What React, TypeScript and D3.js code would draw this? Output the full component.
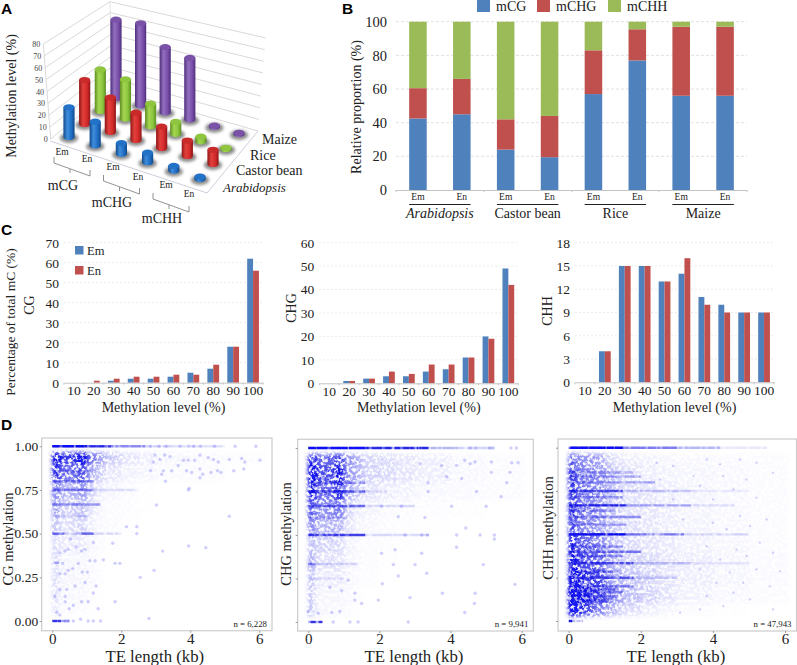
import React, { useEffect, useRef } from "react";
import * as d3 from "d3";

const SERIF = "'Liberation Serif', 'Times New Roman', serif";
const SANS = "'Liberation Sans', Arial, sans-serif";
const BLUE = "#4f81bd";
const RED = "#c0504d";
const GREEN = "#9bbb59";
const INK = "#222";

// A: methylation level (rows back to front in drawing order)
const species = ["Arabidopsis", "Castor bean", "Rice", "Maize"];
const contexts = ["mCG", "mCHG", "mCHH"];
const tissues = ["Em", "En"];
const levelArabidopsis = [25, 20, 9, 8, 4, 2];
const levelCastor = [37, 29, 23, 18, 13, 12];
const levelRice = [35, 33, 19, 10, 4, 1];
const levelMaize = [66, 69, 55, 52, 1, 1];
const levelTicks = [0, 10, 20, 30, 40, 50, 60, 70, 80];

// B: relative proportion
const samples = ["Em", "En", "Em", "En", "Em", "En", "Em", "En"];
const sampleGroups = ["Arabidopsis", "Castor bean", "Rice", "Maize"];
const propCG = [42.5, 45, 24, 19.5, 57, 77, 56, 56];
const propCHG = [18, 21, 18, 24.5, 26, 18.5, 41, 41];
const propCHH = [39.5, 34, 58, 56, 17, 4.5, 3, 3];

// C: percentage of total mC per methylation bin
const bins = ["10", "20", "30", "40", "50", "60", "70", "80", "90", "100"];
const cgEm = [0, 0, 1, 2, 2, 3, 5, 7, 18, 62];
const cgEn = [0, 1, 2, 3, 3, 4, 4, 9, 18, 56];
const chgEm = [0, 1, 2, 3, 3, 5, 6, 11, 20, 49];
const chgEn = [0, 1, 2, 5, 4, 8, 8, 11, 19, 42];
const chhEm = [0, 4, 15, 15, 13, 14, 11, 10, 9, 9];
const chhEn = [0, 4, 15, 15, 13, 16, 10, 9, 9, 9];

// D: the clouds are far too dense to read dot by dot, so they are kept as
// density estimates by eye (rows top to bottom, columns along kbEdges), horizontal
// stripes at the common ratios, and the sparse dots that can actually be read.
// The grain inside the clouds is an SVG noise filter: a texture, not data.
const kbEdges = [0, 0.125, 0.25, 0.5, 0.75, 1, 1.25, 1.5, 2, 2.5, 3, 4, 5, 6.1];
const methEdges = [0.965, 0.9, 0.8, 0.7, 0.6, 0.5, 0.4, 0.3, 0.2, 0.1, 0.03];

const cgDensity = [
  [0.8, 0.7, 0.55, 0.6, 0.75, 0.4, 0.3, 0.15, 0.08, 0.05, 0.03, 0.015, 0.01],
  [0.65, 0.55, 0.4, 0.4, 0.5, 0.25, 0.15, 0.07, 0.04, 0.03, 0.012, 0.01, 0],
  [0.4, 0.3, 0.2, 0.22, 0.28, 0.12, 0.06, 0.03, 0.01, 0.005, 0, 0, 0],
  [0.3, 0.2, 0.12, 0.15, 0.18, 0.08, 0.03, 0.012, 0.008, 0.003, 0, 0, 0],
  [0.2, 0.12, 0.08, 0.1, 0.12, 0.05, 0.02, 0.01, 0.005, 0, 0, 0, 0],
  [0.12, 0.08, 0.05, 0.06, 0.06, 0.03, 0.01, 0.003, 0, 0, 0, 0, 0],
  [0.12, 0.06, 0.03, 0.03, 0.03, 0.015, 0.006, 0, 0, 0, 0, 0, 0],
  [0.12, 0.05, 0.03, 0.03, 0.03, 0.02, 0.006, 0, 0, 0, 0, 0, 0],
  [0.1, 0.05, 0.02, 0.02, 0.02, 0.012, 0.005, 0, 0, 0, 0, 0, 0],
  [0.08, 0.03, 0.01, 0.01, 0.01, 0.005, 0.003, 0, 0, 0, 0, 0, 0],
];
const chgDensity = [
  [0.7, 0.6, 0.42, 0.45, 0.55, 0.3, 0.22, 0.12, 0.1, 0.07, 0.05, 0.02, 0.01],
  [0.85, 0.75, 0.5, 0.5, 0.65, 0.3, 0.22, 0.13, 0.1, 0.08, 0.05, 0.02, 0.012],
  [0.75, 0.6, 0.4, 0.42, 0.6, 0.22, 0.15, 0.07, 0.05, 0.04, 0.02, 0.015, 0.01],
  [0.55, 0.4, 0.3, 0.32, 0.38, 0.12, 0.06, 0.035, 0.015, 0.01, 0.008, 0.005, 0],
  [0.4, 0.25, 0.2, 0.22, 0.2, 0.08, 0.04, 0.02, 0.012, 0.006, 0.004, 0, 0],
  [0.2, 0.15, 0.12, 0.12, 0.1, 0.04, 0.02, 0.012, 0.006, 0.004, 0, 0, 0],
  [0.25, 0.15, 0.08, 0.09, 0.08, 0.04, 0.02, 0.01, 0.005, 0, 0, 0, 0],
  [0.2, 0.08, 0.05, 0.05, 0.06, 0.03, 0.012, 0.008, 0, 0, 0, 0, 0],
  [0.2, 0.06, 0.03, 0.03, 0.03, 0.02, 0.006, 0, 0, 0, 0, 0, 0],
  [0.2, 0.05, 0.03, 0.02, 0.02, 0.01, 0.003, 0, 0, 0, 0, 0, 0],
];
const chhDensity = [
  [0.5, 0.4, 0.3, 0.3, 0.25, 0.12, 0.08, 0.05, 0.04, 0.03, 0.02, 0.015, 0.01],
  [0.65, 0.5, 0.35, 0.33, 0.3, 0.18, 0.12, 0.08, 0.05, 0.04, 0.03, 0.02, 0.012],
  [0.65, 0.5, 0.38, 0.35, 0.3, 0.2, 0.13, 0.09, 0.07, 0.05, 0.035, 0.02, 0.012],
  [0.65, 0.5, 0.35, 0.33, 0.25, 0.18, 0.13, 0.09, 0.07, 0.05, 0.035, 0.02, 0.012],
  [0.6, 0.45, 0.33, 0.3, 0.25, 0.18, 0.12, 0.09, 0.07, 0.05, 0.035, 0.02, 0.012],
  [0.7, 0.55, 0.45, 0.4, 0.35, 0.2, 0.14, 0.1, 0.08, 0.06, 0.04, 0.025, 0.012],
  [0.8, 0.7, 0.5, 0.45, 0.4, 0.22, 0.16, 0.12, 0.1, 0.07, 0.05, 0.03, 0.015],
  [0.85, 0.75, 0.6, 0.55, 0.5, 0.28, 0.22, 0.16, 0.12, 0.08, 0.05, 0.03, 0.015],
  [0.95, 0.85, 0.7, 0.6, 0.5, 0.35, 0.28, 0.18, 0.12, 0.08, 0.04, 0.02, 0.01],
  [0.9, 0.8, 0.6, 0.45, 0.35, 0.25, 0.15, 0.1, 0.05, 0.03, 0.01, 0.005, 0],
];

// stripes: [methylation, from kb, to kb, strength]
const cgStripes = [
  [1, 0, 1.1, 0.95], [1, 1.1, 1.7, 0.75], [1, 1.7, 2.7, 0.4], [1, 2.7, 3.5, 0.15], [1, 3.5, 5, 0.1],
  [0.857, 0, 1.1, 0.2], [0.8, 0, 1.2, 0.35], [0.75, 0, 1.2, 0.4], [0.75, 1.2, 2.5, 0.1],
  [0.667, 0, 1.4, 0.35], [0.6, 0, 1, 0.12], [0.5, 0, 0.4, 0.5], [0.5, 0.4, 0.85, 0.18], [0.5, 0.85, 1.2, 0.5],
  [0.5, 1.2, 2, 0.12], [0.333, 0.05, 0.2, 0.35], [0, 0, 0.25, 0.7], [0, 0.25, 0.5, 0.3],
];
const chgStripes = [
  [1, 0, 1.6, 0.95], [1, 1.6, 3.4, 0.75], [1, 3.4, 4.2, 0.25], [1, 4.2, 5.2, 0.15],
  [0.8, 0, 1.6, 0.35], [0.75, 0, 1.6, 0.55], [0.75, 1.6, 2.2, 0.12], [0.667, 0, 1.6, 0.5],
  [0.667, 1.6, 3, 0.12], [0.6, 0, 1.1, 0.18], [0.5, 0, 1.6, 0.65], [0.5, 1.6, 3.4, 0.12],
  [0.333, 0, 0.2, 0.6], [0.333, 0.2, 1.4, 0.12], [0.25, 0, 1, 0.08], [0, 0, 0.4, 0.7],
];
const chhStripes = [
  [1, 0, 1.5, 0.95], [1, 1.5, 3, 0.45], [1, 3, 4.2, 0.25], [1, 4.2, 5.5, 0.08],
  [0.857, 0, 1.8, 0.25], [0.833, 0, 2, 0.3], [0.8, 0, 2.4, 0.3], [0.75, 0, 1.5, 0.6], [0.75, 1.5, 3.5, 0.18],
  [0.75, 3.5, 5, 0.06], [0.714, 0, 1.5, 0.3], [0.667, 0, 1.6, 0.75], [0.667, 1.6, 3.4, 0.3], [0.667, 3.4, 4.6, 0.1],
  [0.636, 0, 1.3, 0.3], [0.6, 0, 2, 0.35], [0.556, 0, 1.6, 0.3], [0.5, 0, 1.6, 0.95], [0.5, 1.6, 3.2, 0.45],
  [0.5, 3.2, 5, 0.15], [0.429, 0, 1.5, 0.35], [0.4, 0, 2, 0.45], [0.375, 0, 1.5, 0.35], [0.333, 0, 1.8, 0.6],
  [0.333, 1.8, 3.5, 0.22], [0.333, 3.5, 5, 0.07], [0.286, 0, 1.4, 0.35], [0.25, 0, 1.8, 0.55], [0.25, 1.8, 3, 0.15],
  [0.2, 0, 1.8, 0.4], [0.182, 0, 1.3, 0.35], [0.167, 0, 1.5, 0.4], [0.143, 0, 1.3, 0.4], [0.125, 0, 1.2, 0.35],
  [0.111, 0, 1.1, 0.3], [0, 0, 0.1, 0.85], [0, 0.1, 0.4, 0.3],
];

// sparse dots: [kb, methylation]
const cgDots = [
  [3.02, 0.664], [5.13, 0.6], [3.97, 0.76], [3.94, 0.75], [3.28, 0.8], [4.28, 0.82], [4.36, 0.84], [4.28, 0.87],
  [3.89, 0.86], [4.04, 0.85], [4.6, 0.85], [4.79, 0.86], [4.89, 0.85], [5.26, 0.86], [5.55, 0.87], [5.58, 0.91],
  [6.02, 0.92], [5.49, 0.93], [5.13, 0.925], [4.81, 0.91], [4.67, 0.925], [4.52, 0.935], [4.28, 0.95], [4.13, 0.92],
  [3.94, 0.92], [3.8, 0.92], [3.65, 0.89], [3.41, 0.94], [3.26, 0.95], [2.97, 0.95], [2.93, 0.91], [3.12, 0.925],
  [3.46, 0.86], [3.22, 0.86], [3.17, 0.84], [2.85, 0.86], [3.95, 0.43], [4.45, 0.42], [3.2, 0.4], [2.95, 0.29],
  [2.8, 0.015], [2.55, 0.25], [2.45, 0.5], [2.15, 0.54], [2.45, 0.54], [1.75, 0.445], [1.82, 0.33], [1.96, 0.33],
  [1.82, 0.11], [1.33, 0.07], [1.04, 0.11], [0.85, 0.11], [0.61, 0.09], [1.19, 0.16], [1.27, 0.2], [0.95, 0.22],
  [0.66, 0.2], [1.02, 0.28], [0.87, 0.28], [0.75, 0.33], [1.48, 0.35], [1.24, 0.345], [1.09, 0.345], [0.95, 0.41],
  [0.85, 0.4], [1.19, 0.45], [0.69, 0.425], [0.53, 0.47], [0.46, 0.41], [0.37, 0.4], [0.22, 0.39], [0.3, 0.33],
  [0.46, 0.29], [0.59, 0.3], [0.37, 0.27], [0.22, 0.27], [0.42, 0.18], [0.22, 0.18], [0.37, 0.14], [0.37, 0.11],
  [0.08, 0.14], [0.49, 0.07], [0.13, 0.05], [0.22, 0.035], [0.61, 0], [0.82, 0.01], [1.04, 0], [1.19, 0], [1.4, 0],
  [0.46, 0], [0.37, 0], [2.85, 1], [3.1, 1], [3.3, 1], [3.7, 1], [3.95, 1], [4.1, 1], [4.3, 1], [4.7, 1], [5.3, 1], [5.9, 1],
];
const chgDots = [
  [4.67, 0.107], [3.77, 0.165], [2.86, 0.14], [4.4, 0.055], [4.69, 0.165], [5.81, 0.216], [4.92, 0.33], [4.17, 0.43],
  [4.83, 0.5], [5.23, 0.5], [5.23, 0.477], [4.17, 0.5], [4.43, 0.54], [3.19, 0.5], [3.35, 0.5], [3.28, 0.6],
  [4.03, 0.665], [5, 0.665], [4.73, 0.75], [5.42, 0.72], [5.58, 0.8], [5.67, 0.86], [5.15, 0.86], [5.9, 0.915],
  [5.72, 0.915], [5.15, 0.92], [4.55, 0.91], [4.17, 0.9], [3.75, 0.9], [3.14, 0.91], [3.89, 0.835], [4.31, 0.825],
  [3.37, 0.8], [3.37, 0.75], [2.62, 0.665], [2.53, 0.605], [2.06, 0.665], [2.08, 0.22], [2.53, 0.265], [1.97, 0.126],
  [1.31, 0.165], [0.66, 0.055], [0.7, 0], [1.17, 0], [1.4, 0], [2.81, 0], [3.33, 0.28], [3, 0.33], [3.19, 0.395],
  [2.06, 0.395], [2.44, 0.415], [2.72, 0.5], [2.39, 0.33], [0.89, 0.06], [0.28, 0.05], [0, 0.06], [1.5, 0.107],
  [1.31, 0.126], [0.94, 0.18], [0.61, 0.2], [1.12, 0.24], [4.4, 0.93], [4.69, 0.92], [4.55, 1], [4.7, 1], [5.1, 1],
  [5.2, 1], [5.7, 1], [5.85, 1],
];
const chhDots = [
  [2.44, 0.913], [2.9, 0.894], [3.83, 0.932], [4.2, 0.904], [4.75, 0.932], [5.21, 0.913], [5.67, 0.855], [4.29, 0.836],
  [4.93, 0.817], [3.64, 0.779], [4.57, 0.759], [5.21, 0.711], [4.01, 0.701], [2.9, 0.701], [3.46, 0.836], [2.53, 0.817],
  [4.75, 0.605], [5.49, 0.586], [4, 0.567], [3.18, 0.586], [4.38, 0.529], [5.03, 0.548], [3.83, 0.432], [4.66, 0.413],
  [5.3, 0.452], [4.2, 0.355], [4.93, 0.375], [5.67, 0.394], [3.64, 0.298], [4.47, 0.279], [5.21, 0.298], [5.86, 0.288],
  [4.1, 0.221], [4.84, 0.221], [5.58, 0.2], [3.83, 0.144], [4.57, 0.163], [4.29, 0.086], [3.64, 0.067], [5.03, 0.125],
  [3.09, 0.048], [5.67, 0.067],
];

const kbTicks = [0, 2, 4, 6];
const methTicks = [0, 0.25, 0.5, 0.75, 1];

const addText = (g, x, y, str, size, opts: any = {}) =>
  g
    .append("text")
    .attr("x", x)
    .attr("y", y)
    .attr("font-family", opts.family || SERIF)
    .attr("font-size", size)
    .attr("font-style", opts.italic ? "italic" : "normal")
    .attr("font-weight", opts.bold ? "bold" : "normal")
    .attr("text-anchor", opts.anchor || "middle")
    .attr("fill", opts.fill || INK)
    .text(str);

const addRotated = (g, x, y, str, size) =>
  g
    .append("text")
    .attr("transform", `translate(${x},${y}) rotate(-90)`)
    .attr("font-family", SERIF)
    .attr("font-size", size)
    .attr("text-anchor", "middle")
    .attr("fill", INK)
    .text(str);

function drawPanelA(svg) {
  const g = svg.append("g");

  // walls, interpolated between the 0 and 80 levels
  const height = d3.scaleLinear().domain([0, 80]).range([0, 95]);
  const ax = d3.scaleLinear().domain([0, 80]).range([50.7, 43.3]);
  const ay = d3.scaleLinear().domain([0, 80]).range([139, 44]);
  const bx = d3.scaleLinear().domain([0, 80]).range([112, 110]);
  const by = d3.scaleLinear().domain([0, 80]).range([89, 1.7]);
  const cx = d3.scaleLinear().domain([0, 80]).range([258, 265.7]);
  const cy = d3.scaleLinear().domain([0, 80]).range([131, 38]);

  const wall = d3.line();
  levelTicks.forEach((v) => {
    g.append("path")
      .attr("d", wall([[ax(v), ay(v)], [bx(v), by(v)], [cx(v), cy(v)]]))
      .attr("fill", "none")
      .attr("stroke", "#cfcfcf")
      .attr("stroke-width", 0.8);
    addText(g, ax(v) - 3, ay(v) + 3, String(v), 8, { anchor: "end", fill: "#444" });
  });
  g.append("path")
    .attr("d", wall([[ax(0), ay(0)], [ax(80), ay(80)]]))
    .attr("stroke", "#cfcfcf")
    .attr("stroke-width", 0.8);
  g.append("path")
    .attr("d", wall([[bx(0), by(0)], [bx(80), by(80)]]))
    .attr("stroke", "#dcdcdc")
    .attr("stroke-width", 0.8);
  g.append("path")
    .attr("d", wall([[50, 141], [207, 193], [258, 131]]))
    .attr("fill", "none")
    .attr("stroke", "#c9c6d8")
    .attr("stroke-width", 0.9);

  // floor position of each column
  const rowX = d3.scaleLinear().domain([0, 3]).range([69, 116]);
  const rowY = d3.scaleLinear().domain([0, 3]).range([137, 98]);
  const stepX = d3.scaleLinear().domain([0, 3]).range([26.2, 24.6]);
  const stepY = d3.scaleLinear().domain([0, 3]).range([8.4, 7.2]);

  const rows = [
    { values: levelArabidopsis, base: "#1f6fc6", dark: "#124a8a", light: "#3f8ddc", top: "#2272c8" },
    { values: levelCastor, base: "#d42b2b", dark: "#8e1616", light: "#e2403c", top: "#c92a2a" },
    { values: levelRice, base: "#8cc63f", dark: "#5d8e22", light: "#a5d652", top: "#8fc53f" },
    { values: levelMaize, base: "#7b50ab", dark: "#4f2f7c", light: "#9270bf", top: "#7a52a8" },
  ];

  const defs = svg.append("defs");
  defs
    .append("filter")
    .attr("id", "soft")
    .attr("x", "-40%")
    .attr("y", "-60%")
    .attr("width", "180%")
    .attr("height", "220%")
    .append("feGaussianBlur")
    .attr("stdDeviation", 1.5);
  rows.forEach((row, i) => {
    const grad = defs.append("linearGradient").attr("id", `cyl${i}`);
    [[0, row.dark], [0.35, row.light], [0.7, row.base], [1, row.dark]].forEach(([o, c]) =>
      grad.append("stop").attr("offset", o).attr("stop-color", c)
    );
  });

  const columns = [];
  rows.forEach((row, r) => {
    row.values.forEach((v, c) => {
      columns.push({ r, v, x: rowX(r) + c * stepX(r), y: rowY(r) + c * stepY(r) });
    });
  });
  columns.sort((a, b) => a.y - b.y);

  const rx = 5.6;
  const ry = 3.1;
  columns.forEach((d) => {
    const h = height(d.v);
    g.append("ellipse")
      .attr("cx", d.x)
      .attr("cy", d.y + 1)
      .attr("rx", rx + 3.5)
      .attr("ry", ry + 1.8)
      .attr("fill", "#666")
      .attr("opacity", 0.75)
      .attr("filter", "url(#soft)");
    g.append("path")
      .attr("d", `M${d.x - rx},${d.y - h}V${d.y}A${rx},${ry} 0 0 0 ${d.x + rx},${d.y}V${d.y - h}Z`)
      .attr("fill", `url(#cyl${d.r})`);
    g.append("ellipse")
      .attr("cx", d.x)
      .attr("cy", d.y - h)
      .attr("rx", rx)
      .attr("ry", ry)
      .attr("fill", rows[d.r].top);
  });

  addRotated(g, 15.5, 96, "Methylation level (%)", 14);

  // Em / En labels along the front edge, one per column of the front row
  const labelX = [62, 87, 113, 138, 166, 189];
  const labelY = [155, 162, 170, 180, 188, 197];
  d3.range(6).forEach((i) => addText(g, labelX[i], labelY[i], tissues[i % 2], 9.5));

  const bracket = d3.scaleLinear().domain([0, 2]).range([0, 1]);
  contexts.forEach((name, i) => {
    const t = bracket(i);
    const x0 = 54 + t * 99;
    const y0 = 157 + t * 36;
    g.append("path")
      .attr("d", `M${x0},${y0}v6L${x0 + 36},${y0 + 19}v-6M${x0 + 16},${y0 + 12}l0,4`)
      .attr("fill", "none")
      .attr("stroke", "#777")
      .attr("stroke-width", 0.8);
  });
  addText(g, 63, 190, contexts[0], 14);
  addText(g, 112, 207, contexts[1], 14);
  addText(g, 162, 223, contexts[2], 14);

  addText(g, 262, 144, species[3], 14, { anchor: "start" });
  addText(g, 250, 160, species[2], 14, { anchor: "start" });
  addText(g, 236, 175, species[1], 14, { anchor: "start" });
  addText(g, 223, 192, species[0], 13, { anchor: "start", italic: true });
}

function drawPanelB(svg) {
  const g = svg.append("g");
  const x = d3.scaleBand().domain(d3.range(8).map(String)).range([396, 747]).paddingInner(0.6).paddingOuter(0.3);
  const y = d3.scaleLinear().domain([0, 100]).range([190, 21.7]);

  const yAxis = d3.axisLeft(y).tickValues([0, 20, 40, 60, 80, 100]).tickSize(0).tickPadding(9);
  const ay = g.append("g").attr("transform", "translate(396,0)").call(yAxis);
  ay.select(".domain").remove();
  ay.selectAll("text").attr("font-family", SERIF).attr("font-size", 14.5).attr("fill", INK);

  g.selectAll(".grid-b")
    .data([20, 40, 60, 80, 100])
    .join("line")
    .attr("x1", 396)
    .attr("x2", 747)
    .attr("y1", (d) => y(d))
    .attr("y2", (d) => y(d))
    .attr("stroke", "#d9d9d9")
    .attr("stroke-width", 0.8)
    .attr("stroke-dasharray", "3 2");

  const table = samples.map((_, i) => ({ i, cg: propCG[i], chg: propCHG[i], chh: propCHH[i] }));
  const layers = d3.stack().keys(["cg", "chg", "chh"])(table);
  const colors = [BLUE, RED, GREEN];
  layers.forEach((layer, k) => {
    g.append("g")
      .selectAll("rect")
      .data(layer)
      .join("rect")
      .attr("x", (d) => x(String(d.data.i)))
      .attr("width", x.bandwidth())
      .attr("y", (d) => y(d[1]))
      .attr("height", (d) => y(d[0]) - y(d[1]))
      .attr("fill", colors[k]);
  });

  g.append("line").attr("x1", 396).attr("x2", 747).attr("y1", 190.5).attr("y2", 190.5).attr("stroke", "#c4c4c4");
  [396, 484, 572, 659, 747].forEach((v) =>
    g.append("line").attr("x1", v).attr("x2", v).attr("y1", 190).attr("y2", 192).attr("stroke", "#c4c4c4")
  );

  samples.forEach((s, i) => addText(g, x(String(i)) + x.bandwidth() / 2, 200, s, 9.5));
  sampleGroups.forEach((name, i) => {
    const a = x(String(i * 2));
    const b = x(String(i * 2 + 1)) + x.bandwidth();
    g.append("line").attr("x1", a).attr("x2", b).attr("y1", 204.5).attr("y2", 204.5).attr("stroke", "#222").attr("stroke-width", 1);
    addText(g, (a + b) / 2, 218, name, 14, { italic: i === 0 });
  });

  addRotated(g, 361, 107, "Relative proportion (%)", 14);

  // legend
  const legendX = [477, 537, 608];
  ["mCG", "mCHG", "mCHH"].forEach((name, i) => {
    g.append("rect").attr("x", legendX[i]).attr("y", 0).attr("width", 13).attr("height", 12).attr("fill", colors[i]);
    addText(g, legendX[i] + 19, 11, name, 14, { anchor: "start" });
  });
}

function drawGrouped(svg, em, en, domainMax, tickStep, left, right, top, bottom) {
  const g = svg.append("g");
  const x = d3.scaleBand().domain(bins).range([left, right]);
  const y = d3.scaleLinear().domain([0, domainMax]).range([bottom, top]);
  const barW = x.bandwidth() * 0.295;

  const ticks = d3.range(0, domainMax + tickStep, tickStep);
  g.selectAll(".grid")
    .data(ticks.slice(1))
    .join("line")
    .attr("x1", left)
    .attr("x2", right)
    .attr("y1", (d) => y(d))
    .attr("y2", (d) => y(d))
    .attr("stroke", "#e6e6e6")
    .attr("stroke-width", 0.8)
    .attr("stroke-dasharray", "2 2");

  const ay = g
    .append("g")
    .attr("transform", `translate(${left},0)`)
    .call(d3.axisLeft(y).tickValues(ticks).tickSize(0).tickPadding(5));
  ay.select(".domain").remove();
  ay.selectAll("text").attr("font-family", SERIF).attr("font-size", 13.5).attr("fill", INK);

  bins.forEach((b, i) => {
    const cx = x(b) + x.bandwidth() / 2;
    g.append("rect").attr("x", cx - barW).attr("width", barW).attr("y", y(em[i])).attr("height", y(0) - y(em[i])).attr("fill", BLUE);
    g.append("rect").attr("x", cx).attr("width", barW).attr("y", y(en[i])).attr("height", y(0) - y(en[i])).attr("fill", RED);
  });

  const ax = g
    .append("g")
    .attr("transform", `translate(0,${bottom})`)
    .call(d3.axisBottom(x).tickSize(0).tickPadding(3));
  ax.select(".domain").attr("stroke", "#c4c4c4");
  ax.selectAll("text").attr("font-family", SERIF).attr("font-size", 13.5).attr("fill", INK);
  bins.concat("").forEach((b, i) => {
    const tx = left + i * x.step();
    g.append("line").attr("x1", tx).attr("x2", tx).attr("y1", bottom).attr("y2", bottom + 2).attr("stroke", "#c4c4c4");
  });

  addText(g, (left + right) / 2, 411.5, "Methylation level (%)", 14);
  return g;
}

function drawPanelC(svg) {
  const g1 = drawGrouped(svg, cgEm, cgEn, 70, 10, 64, 263, 242.7, 382.7);
  addRotated(g1, 15, 322, "Percentage of total mC (%)", 13.5);
  addRotated(g1, 34, 305, "CG", 14);
  [["Em", BLUE, 246], ["En", RED, 266]].forEach(([name, c, yy]: any) => {
    g1.append("rect").attr("x", 75).attr("y", yy).attr("width", 8.5).attr("height", 8.5).attr("fill", c);
    addText(g1, 87, yy + 8.5, name, 12.5, { anchor: "start" });
  });

  const g2 = drawGrouped(svg, chgEm, chgEn, 60, 10, 319.3, 518.3, 242.7, 383.3);
  addRotated(g2, 296, 308, "CHG", 14);

  const g3 = drawGrouped(svg, chhEm, chhEn, 18, 3, 575, 774, 242.7, 382.3);
  addRotated(g3, 552, 311, "CHH", 14);
}

function drawScatter(svg, cfg) {
  const g = svg.append("g");
  const x = d3.scaleLinear().domain([0, 6]).range([cfg.x0, cfg.x6]);
  const y = d3.scaleLinear().domain([0, 1]).range([cfg.y0, cfg.y1]);

  const clipId = `clip-${cfg.id}`;
  svg.select("defs").append("clipPath").attr("id", clipId).append("rect")
    .attr("x", cfg.left).attr("y", cfg.top).attr("width", cfg.right - cfg.left).attr("height", cfg.bottom - cfg.top);

  g.append("rect")
    .attr("x", cfg.left)
    .attr("y", cfg.top)
    .attr("width", cfg.right - cfg.left)
    .attr("height", cfg.bottom - cfg.top)
    .attr("fill", "#fff")
    .attr("stroke", "#cccccc")
    .attr("stroke-width", 1.2);

  const plot = g.append("g").attr("clip-path", `url(#${clipId})`);

  const cloud = plot.append("g").attr("filter", "url(#cloud)");
  cfg.density.forEach((row, r) => {
    row.forEach((v, c) => {
      if (!v) return;
      cloud
        .append("rect")
        .attr("x", x(kbEdges[c]))
        .attr("width", x(kbEdges[c + 1]) - x(kbEdges[c]))
        .attr("y", y(methEdges[r]))
        .attr("height", y(methEdges[r + 1]) - y(methEdges[r]))
        .attr("fill", "#1414e6")
        .attr("opacity", Math.min(1, v * cfg.cloudGain));
    });
  });

  const stripes = plot.append("g").attr("filter", "url(#stripe)");
  cfg.stripes.forEach(([m, a, b, s]) => {
    stripes
      .append("line")
      .attr("x1", x(a))
      .attr("x2", x(b))
      .attr("y1", y(m))
      .attr("y2", y(m))
      .attr("stroke", "#0c0ce0")
      .attr("stroke-width", 2.4)
      .attr("stroke-opacity", s);
  });

  plot
    .append("g")
    .selectAll("circle")
    .data(cfg.dots)
    .join("circle")
    .attr("cx", (d) => x(d[0]))
    .attr("cy", (d) => y(d[1]))
    .attr("r", cfg.dotR)
    .attr("fill", "#2a2af0")
    .attr("opacity", cfg.dotAlpha);

  const ax = g
    .append("g")
    .attr("transform", `translate(0,${cfg.bottom})`)
    .call(d3.axisBottom(x).tickValues(kbTicks).tickSize(2).tickPadding(0.5).tickFormat(d3.format("d")));
  ax.select(".domain").remove();
  ax.selectAll("line").attr("stroke", "#999");
  ax.selectAll("text").attr("font-family", SERIF).attr("font-size", 15).attr("fill", INK);

  const ay = g
    .append("g")
    .attr("transform", `translate(${cfg.left},0)`)
    .call(d3.axisLeft(y).tickValues(methTicks).tickSize(2).tickPadding(1.5).tickFormat(cfg.labels ? d3.format(".2f") : () => ""));
  ay.select(".domain").remove();
  ay.selectAll("line").attr("stroke", "#999");
  ay.selectAll("text").attr("font-family", SERIF).attr("font-size", 13.5).attr("fill", INK);

  addText(g, (cfg.x0 + cfg.x6) / 2 - 1, 661.5, "TE length (kb)", 16.8);
  addRotated(g, cfg.titleX, cfg.titleY, cfg.title, 14.5);
  addText(g, cfg.right - 5, 626.5, cfg.n, 8.8, { anchor: "end" });
}

// grain for the clouds and stripes; alpha = k1 * shape * noise + k2 * shape
function addGrain(defs, id, blur, freq, seed, noiseGain, noiseBias, k1, k2, soften) {
  const f = defs
    .append("filter")
    .attr("id", id)
    .attr("filterUnits", "userSpaceOnUse")
    .attr("x", 0)
    .attr("y", 430)
    .attr("width", 797)
    .attr("height", 210)
    .attr("color-interpolation-filters", "sRGB");
  f.append("feGaussianBlur").attr("in", "SourceGraphic").attr("stdDeviation", blur).attr("result", "shape");
  f.append("feTurbulence").attr("type", "fractalNoise").attr("baseFrequency", freq).attr("numOctaves", 2).attr("seed", seed).attr("result", "raw");
  f.append("feColorMatrix")
    .attr("in", "raw")
    .attr("type", "matrix")
    .attr("values", `0 0 0 0 1  0 0 0 0 1  0 0 0 0 1  ${noiseGain} 0 0 0 ${noiseBias}`)
    .attr("result", "noise");
  f.append("feComposite").attr("in", "shape").attr("in2", "noise").attr("operator", "arithmetic")
    .attr("k1", k1).attr("k2", k2).attr("k3", 0).attr("k4", 0).attr("result", "grain");
  f.append("feGaussianBlur").attr("in", "grain").attr("stdDeviation", soften);
}

function drawPanelD(svg) {
  const defs = svg.select("defs");
  addGrain(defs, "cloud", 2.2, 0.32, 7, 4.5, -1.6, 1.45, 0.1, 0.45);
  addGrain(defs, "stripe", 0.3, "0.22 0.02", 11, 4, -1, 0.85, 0.35, 0.35);

  drawScatter(svg, {
    id: "cg", left: 41.7, right: 272, top: 438, bottom: 630.7,
    x0: 52.3, x6: 259.3, y0: 621, y1: 446.3,
    density: cgDensity, stripes: cgStripes, dots: cgDots, cloudGain: 1, dotR: 1.7, dotAlpha: 0.22,
    labels: true, title: "CG methylation", titleX: 13, titleY: 539, n: "n = 6,228",
  });
  drawScatter(svg, {
    id: "chg", left: 297.7, right: 533.3, top: 439.3, bottom: 631,
    x0: 308.3, x6: 521.7, y0: 622, y1: 448,
    density: chgDensity, stripes: chgStripes, dots: chgDots, cloudGain: 1, dotR: 1.7, dotAlpha: 0.22,
    labels: false, title: "CHG methylation", titleX: 291, titleY: 534, n: "n = 9,941",
  });
  drawScatter(svg, {
    id: "chh", left: 558, right: 796.5, top: 439, bottom: 631,
    x0: 568.7, x6: 785, y0: 621, y1: 447.7,
    density: chhDensity, stripes: chhStripes, dots: chhDots, cloudGain: 1, dotR: 1.2, dotAlpha: 0.2,
    labels: false, title: "CHH methylation", titleX: 552.5, titleY: 528, n: "n = 47,943",
  });
}

export default function App() {
  const ref = useRef(null);

  useEffect(() => {
    const svg = d3.select(ref.current);
    svg.selectAll("*").remove();

    drawPanelA(svg);
    drawPanelB(svg);
    drawPanelC(svg);
    drawPanelD(svg);

    const letters = [["A", 1, 14], ["B", 342, 14], ["C", 1, 235], ["D", 1, 430]];
    letters.forEach(([s, x, y]: any) => addText(svg, x, y, s, 15.5, { anchor: "start", bold: true, family: SANS, fill: "#000" }));
  }, []);

  return <svg ref={ref} width={797} height={665} style={{ position: "absolute", left: 0, top: 0 }} />;
}
